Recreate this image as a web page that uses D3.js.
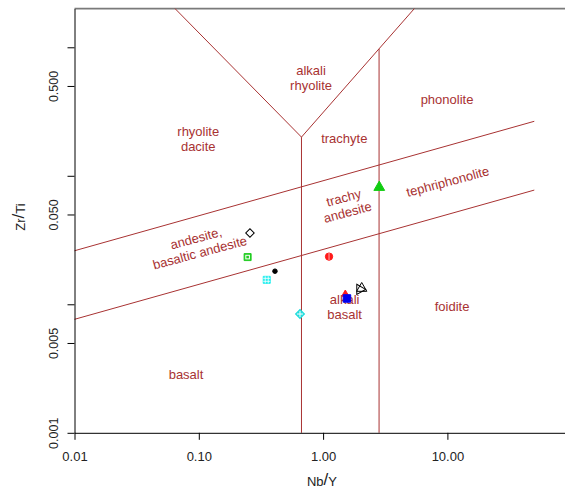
<!DOCTYPE html>
<html>
<head>
<meta charset="utf-8">
<script src="https://cdn.jsdelivr.net/npm/d3@7"></script>
<style>
  body { margin: 0; background: #fff; }
  svg { display: block; font-family: "Liberation Sans", Arial, sans-serif; }
  .field { font-size: 13px; fill: #a83232; }
  .bound { stroke: #a83232; stroke-width: 1; fill: none; }
  .axis text { font-size: 13px; fill: #222; font-family: "Liberation Sans", Arial, sans-serif; }
</style>
</head>
<body>
<svg id="chart" width="565" height="497"></svg>
<script>
// samples (Nb/Y, Zr/Ti)
const sampleNbY = [0.258, 0.247, 0.41, 0.352, 1.116, 2.83, 2.045, 1.509, 1.556, 0.652]
const sampleZrTi = [0.0359, 0.0233, 0.0181, 0.0155, 0.0235, 0.0814, 0.0133, 0.0120, 0.0111, 0.0084]

// field boundaries, each as [[Nb/Y, Zr/Ti], [Nb/Y, Zr/Ti]]
const boundaries = [
  [[0.0644, 2], [0.67, 0.2]],
  [[0.67, 0.2], [5.42, 2]],
  [[0.67, 0.2], [0.67, 0.001]],
  [[2.82, 0.97], [2.82, 0.001]],
  [[0.01, 0.0261], [50, 0.2655]],
  [[0.01, 0.00764], [50, 0.0774]]
]

// field names and where they sit
const fieldNames = [
  ["alkali", "rhyolite"], ["rhyolite", "dacite"], ["trachyte"], ["phonolite"],
  ["trachy", "andesite"], ["andesite,", "basaltic andesite"], ["tephriphonolite"],
  ["alkali", "basalt"], ["foidite"], ["basalt"]
]
const fieldNbY = [0.80, 0.099, 1.48, 9.93, 1.52, 0.0985, 10.06, 1.49, 10.9, 0.0789]
const fieldZrTi = [0.577, 0.192, 0.196, 0.389, 0.0593, 0.0287, 0.090, 0.00953, 0.00953, 0.00285]
const fieldTilted = [false, false, false, false, true, true, true, false, false, false]

const xTicks = [0.01, 0.1, 1, 10]
const yTicks = [0.001, 0.005, 0.01, 0.05, 0.1, 0.5, 1]
const yLabelled = [0.001, 0.005, 0.05, 0.5]

const svg = d3.select("#chart")

const x = d3.scaleLog().domain([0.01, 100]).range([74.5, 571.7])
const y = d3.scaleLog().domain([0.001, 2]).range([432.8, 8.6])

// top frame line
svg.append("line")
  .attr("x1", x(0.01)).attr("x2", 565)
  .attr("y1", y(2)).attr("y2", y(2))
  .attr("stroke", "#7a7a7a").attr("stroke-width", 1.6)

// boundaries
svg.selectAll("line.bound")
  .data(boundaries)
  .enter()
  .append("line")
  .attr("class", "bound")
  .attr("x1", d => x(d[0][0])).attr("y1", d => y(d[0][1]))
  .attr("x2", d => x(d[1][0])).attr("y2", d => y(d[1][1]))

// field labels
const tilt = -15
const fields = svg.selectAll("g.fieldlabel")
  .data(fieldNames)
  .enter()
  .append("g")
  .attr("transform", (d, i) => `translate(${x(fieldNbY[i])},${y(fieldZrTi[i])}) rotate(${fieldTilted[i] ? tilt : 0})`)

fields.each(function (lines) {
  const g = d3.select(this)
  const lh = 15
  lines.forEach((t, k) => {
    g.append("text")
      .attr("class", "field")
      .attr("text-anchor", "middle")
      .attr("x", 0)
      .attr("y", (k - (lines.length - 1) / 2) * lh + 4.5)
      .text(t)
  })
})

// axes
const xAxis = svg.append("g")
  .attr("class", "axis")
  .attr("transform", `translate(0,${y(0.001)})`)
  .call(d3.axisBottom(x).tickValues(xTicks).tickFormat(d3.format(".2f")).tickSize(7).tickSizeOuter(0).tickPadding(12))
xAxis.select(".domain").attr("stroke", "#000")

const yAxis = svg.append("g")
  .attr("class", "axis")
  .attr("transform", `translate(${x(0.01)},0)`)
  .call(d3.axisLeft(y).tickValues(yTicks)
    .tickFormat(d => yLabelled.includes(d) ? d3.format(".3f")(d) : "")
    .tickSize(7).tickSizeOuter(0))
yAxis.selectAll(".tick text")
  .attr("transform", "rotate(-90)")
  .attr("text-anchor", "middle")
  .attr("x", 0)
  .attr("y", -17)
  .attr("dy", 0)
  .style("font-size", "12.5px")

// axis titles
const xt = svg.append("text")
  .attr("x", 322).attr("y", 486)
  .attr("text-anchor", "middle")
  .style("font-size", "13px").style("fill", "#222")
xt.append("tspan").text("Nb")
xt.append("tspan").style("font-size", "17px").attr("dy", -1).text("/")
xt.append("tspan").attr("dy", 1).text("Y")

const yt = svg.append("text")
  .attr("transform", "translate(25,217) rotate(-90)")
  .attr("text-anchor", "middle")
  .style("font-size", "13px").style("fill", "#222")
yt.append("tspan").text("Zr")
yt.append("tspan").style("font-size", "17px").attr("dy", -1).text("/")
yt.append("tspan").attr("dy", 1).text("Ti")

// sample markers
const markerStyle = [
  { shape: d3.symbolSquare, size: 36, rot: 45, fill: "#fff", stroke: "#000", deco: null },
  { shape: d3.symbolSquare, size: 49, rot: 0, fill: "#22cc22", stroke: "#22cc22", deco: "box" },
  { shape: d3.symbolCircle, size: 16, rot: 0, fill: "#000", stroke: "#000", deco: null },
  { shape: d3.symbolSquare, size: 49, rot: 0, fill: "#22eeee", stroke: "#22eeee", deco: "grid" },
  { shape: d3.symbolCircle, size: 42, rot: 0, fill: "#ff1a1a", stroke: "#ff1a1a", deco: "vline" },
  { shape: d3.symbolTriangle, size: 50, rot: 0, fill: "#11cc11", stroke: "#11cc11", deco: null },
  { shape: d3.symbolTriangle, size: 45, rot: 0, fill: "none", stroke: "#000", deco: "tri" },
  { shape: d3.symbolTriangle, size: 22, rot: 0, fill: "#ff1a1a", stroke: "#ff1a1a", deco: null },
  { shape: d3.symbolSquare, size: 56, rot: 0, fill: "#0000ee", stroke: "#0000ee", deco: null },
  { shape: d3.symbolSquare, size: 40, rot: 45, fill: "#22dddd", stroke: "#22dddd", deco: "plus" }
]

const pts = svg.selectAll("g.pt")
  .data(sampleNbY)
  .enter()
  .append("g")
  .attr("transform", (d, i) => `translate(${x(d)},${y(sampleZrTi[i])})`)

pts.each(function (d, i) {
  const s = markerStyle[i]
  const g = d3.select(this)
  g.append("path")
    .attr("d", d3.symbol().type(s.shape).size(s.size)())
    .attr("transform", `rotate(${s.rot})`)
    .attr("fill", s.fill)
    .attr("stroke", s.stroke)
    .attr("stroke-width", 1)
  if (s.deco === "box") {
    g.append("rect").attr("x", -1.8).attr("y", -1.8).attr("width", 3.6).attr("height", 3.6)
      .attr("fill", "none").attr("stroke", "#fff").attr("stroke-width", 1)
  } else if (s.deco === "grid") {
    g.append("path").attr("d", "M-1.5,-3.5V3.5M1.5,-3.5V3.5M-3.5,-1.5H3.5M-3.5,1.5H3.5")
      .attr("stroke", "#fff").attr("stroke-width", 0.8)
  } else if (s.deco === "vline") {
    g.append("path").attr("d", "M0,-3.5V3.5").attr("stroke", "#ffaaaa").attr("stroke-width", 1)
  } else if (s.deco === "plus") {
    g.append("path").attr("d", "M0,-3V3M-3,0H3").attr("stroke", "#fff").attr("stroke-width", 1)
  } else if (s.deco === "tri") {
    g.append("path")
      .attr("d", d3.symbol().type(d3.symbolTriangle).size(s.size)())
      .attr("transform", "translate(-2,1) rotate(-30)")
      .attr("fill", "none").attr("stroke", "#000")
  }
})
</script>
</body>
</html>
